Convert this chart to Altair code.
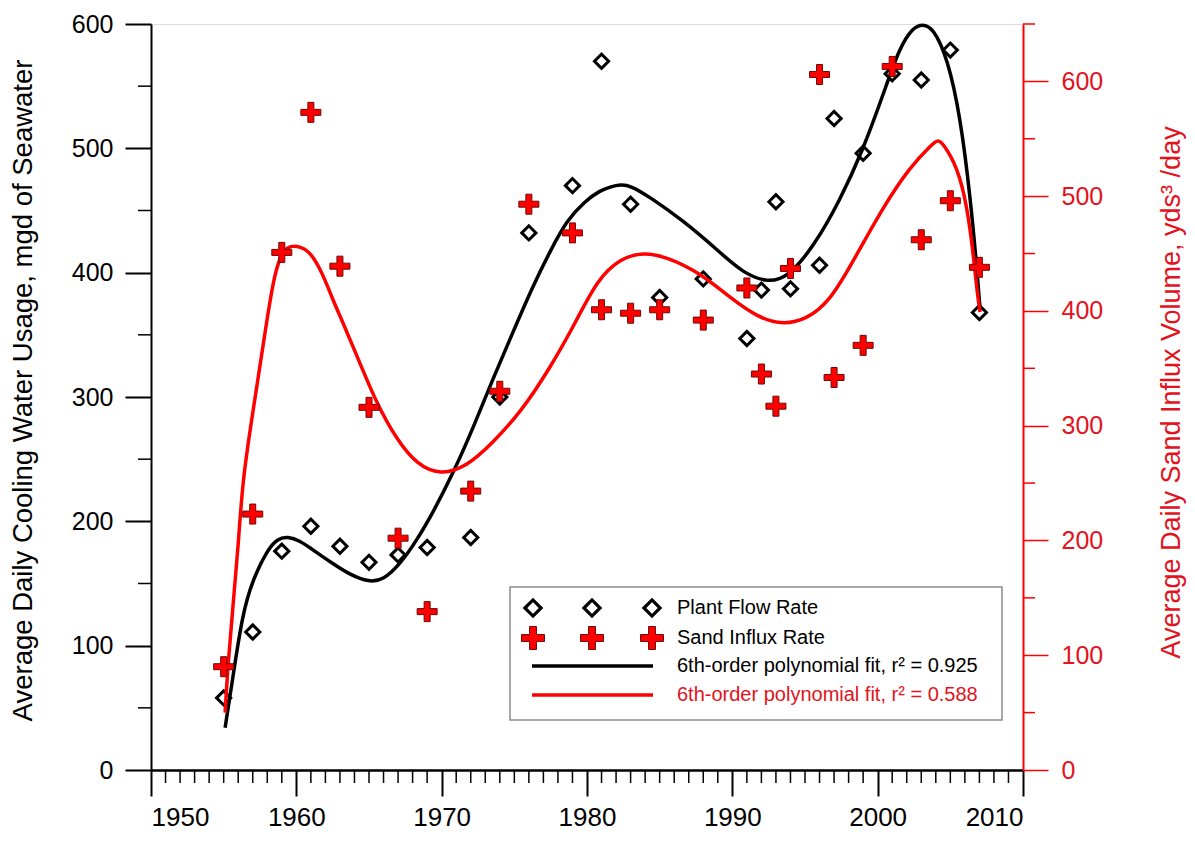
import altair as alt
import pandas as pd

# ---------------- data ----------------
years = [1955, 1957, 1959, 1961, 1963, 1965, 1967, 1969, 1972, 1974, 1976, 1979, 1981,
         1983, 1985, 1988, 1991, 1992, 1993, 1994, 1996, 1997, 1999, 2001, 2003, 2005, 2007]
plant_flow = [58, 111, 176, 196, 180, 167, 173, 179, 187, 300, 432, 470, 570,
              455, 380, 395, 347, 386, 457, 387, 406, 524, 496, 560, 555, 579, 368]
sand_influx = [90, 223, 451, 573, 439, 316, 202, 138, 243, 330, 493, 468, 401,
               398, 401, 392, 420, 345, 317, 437, 606, 342, 370, 613, 462, 496, 438]

fit_black_x = [1955.1, 1955.6, 1956.3, 1957.0, 1958.0, 1958.7, 1959.4, 1960.3, 1960.9, 1962.5,
               1963.7, 1965.0, 1966.0, 1967.1, 1968.3, 1969.4, 1970.8, 1972.2, 1973.5, 1974.9,
               1976.3, 1977.5, 1978.6, 1979.9, 1980.9, 1981.6, 1982.3, 1983.0, 1984.3, 1986.6,
               1989.0, 1990.7, 1992.4, 1993.8, 1995.6, 1997.4, 1999.0, 2000.4, 2001.5, 2002.4,
               2003.1, 2003.8, 2004.8, 2005.7, 2006.4, 2006.85, 2007.05]
fit_black_y = [34, 72, 126, 153, 177, 186, 188, 184, 179, 166,
               157, 151, 153, 165, 185, 207, 239, 276, 314, 352,
               390, 418, 442, 458, 466, 469, 471, 470, 461, 442,
               418, 400, 392, 396, 421, 458, 499, 544, 581, 597,
               600, 597, 573, 525, 458, 400, 370]

fit_red_x = [1955.1, 1955.3, 1955.6, 1956.0, 1956.3, 1957.0, 1957.7, 1958.4, 1958.9, 1959.4,
             1960.0, 1960.9, 1961.8, 1962.5, 1963.0, 1964.2, 1965.5, 1966.9, 1968.3, 1969.9,
             1971.7, 1973.5, 1975.4, 1977.5, 1979.3, 1980.7, 1982.3, 1983.9, 1985.5, 1987.8,
             1990.0, 1991.7, 1993.3, 1995.1, 1996.8, 1998.3, 2000.4, 2002.2, 2003.8, 2004.15,
             2004.5, 2005.5, 2006.15, 2006.55, 2006.9, 2007.05]
fit_red_y = [50, 93, 137, 194, 253, 311, 369, 427, 448, 456,
             457, 453, 433, 410, 396, 360, 320, 288, 266, 257,
             264, 285, 311, 351, 392, 427, 446, 451, 447, 433,
             410, 395, 388, 392, 410, 443, 491, 525, 546, 549,
             546, 525, 491, 453, 410, 399]

x_ticks = [1950, 1960, 1970, 1980, 1990, 2000, 2010]
left_ticks = [0, 100, 200, 300, 400, 500, 600]
left_minor = [50, 150, 250, 350, 450, 550]
right_ticks = [0, 100, 200, 300, 400, 500, 600]
right_minor = [50, 150, 250, 350, 450, 550, 650]
x_minor = [y for y in range(1951, 2010) if y % 10 != 0]

legend_labels = ["Plant Flow Rate", "Sand Influx Rate",
                 "6th-order polynomial fit, r\u00b2 = 0.925",
                 "6th-order polynomial fit, r\u00b2 = 0.588"]

left_title = "Average Daily Cooling Water Usage, mgd of Seawater"
right_title = "Average Daily Sand Influx Volume,  yds\u00b3 /day"

# ---------------- styling ----------------
W, H = 872, 746
FONT = "Liberation Sans, Arial, sans-serif"
RED = "#ff0000"
RED_TXT = "#e3121c"
CROSS = "M-1,-0.3H-0.3V-1H0.3V-0.3H1V0.3H0.3V1H-0.3V0.3H-1Z"

pts = pd.DataFrame({"year": years, "flow": plant_flow, "sand": sand_influx})
bfit = pd.DataFrame({"year": fit_black_x, "v": fit_black_y})
rfit = pd.DataFrame({"year": fit_red_x, "v": fit_red_y})

xscale = alt.Scale(domain=[1950, 2010], nice=False, zero=False)
xaxis = alt.Axis(values=x_ticks, format="d", tickSize=26, tickWidth=2, tickColor="black",
                 domainColor="black", domainWidth=2.5, labelFontSize=26, labelFont=FONT,
                 labelColor="black", labelPadding=8, grid=False, title=None)
X = alt.X("year:Q", scale=xscale, axis=xaxis)

lscale = alt.Scale(domain=[0, 600], nice=False)
laxis = alt.Axis(values=left_ticks, tickSize=26, tickWidth=2, tickColor="black",
                 domainColor="black", domainWidth=2, labelFontSize=25, labelFont=FONT,
                 labelColor="black", labelPadding=12, grid=False,
                 title=left_title, titleFont=FONT, titleFontSize=27.5, titleFontWeight="normal",
                 titleColor="black", titleAngle=270, titleX=-128, titleY=366,
                 titleBaseline="middle", titleAlign="center")
rscale = alt.Scale(domain=[0, 650], nice=False)
raxis = alt.Axis(values=right_ticks, orient="right", tickSize=25, tickWidth=1.5, tickColor=RED,
                 domainColor=RED, domainWidth=2, labelFontSize=25, labelFont=FONT,
                 labelColor=RED_TXT, labelPadding=13, grid=False,
                 title=right_title, titleFont=FONT, titleFontSize=27, titleFontWeight="normal",
                 titleColor=RED_TXT, titleAngle=270, titleX=148, titleY=368,
                 titleBaseline="middle", titleAlign="center")

# left (black) group
black_line = alt.Chart(bfit).mark_line(color="black", strokeWidth=3.5, interpolate="basis").encode(
    x=X, y=alt.Y("v:Q", scale=lscale, axis=laxis))
diamonds = alt.Chart(pts).mark_point(shape="diamond", filled=False, stroke="black",
                                     strokeWidth=3, size=200, opacity=1).encode(
    x=X, y=alt.Y("flow:Q", scale=lscale, axis=laxis))
lminor = alt.Chart(pd.DataFrame({"v": left_minor})).mark_rule(color="black", strokeWidth=1.5).encode(
    y=alt.Y("v:Q", scale=lscale, axis=laxis), x=alt.value(-13), x2=alt.value(0))
xminor = alt.Chart(pd.DataFrame({"year": x_minor})).mark_rule(color="black", strokeWidth=1.5).encode(
    x=X, y=alt.value(H), y2=alt.value(H + 13))
left = alt.layer(black_line, lminor, xminor, diamonds)

# right (red) group
red_line = alt.Chart(rfit).mark_line(color=RED, strokeWidth=3.5, interpolate="basis").encode(
    x=X, y=alt.Y("v:Q", scale=rscale, axis=raxis))
crosses = alt.Chart(pts).mark_point(shape=CROSS, filled=True, fill=RED, stroke="#6a0a0a",
                                    strokeWidth=1, size=400, opacity=1).encode(
    x=X, y=alt.Y("sand:Q", scale=rscale, axis=raxis))
rminor = alt.Chart(pd.DataFrame({"v": right_minor})).mark_rule(color=RED, strokeWidth=1.5).encode(
    y=alt.Y("v:Q", scale=rscale, axis=raxis), x=alt.value(W), x2=alt.value(W + 12))
right = alt.layer(red_line, rminor, crosses)

# legend (drawn in pixel space of the plot area)
one = alt.Data(values=[{"k": 1}])
leg = [alt.Chart(one).mark_rect(fill="white", stroke="#8c8c8c", strokeWidth=1.5).encode(
    x=alt.value(359), x2=alt.value(851), y=alt.value(563), y2=alt.value(696))]
for sx in [382, 441, 501]:
    leg.append(alt.Chart(one).mark_point(shape="diamond", filled=False, stroke="black",
                                         strokeWidth=3.2, size=260, opacity=1).encode(
        x=alt.value(sx), y=alt.value(584)))
    leg.append(alt.Chart(one).mark_point(shape=CROSS, filled=True, fill=RED, stroke="#6a0a0a",
                                         strokeWidth=1, size=530, opacity=1).encode(
        x=alt.value(sx), y=alt.value(614)))
leg.append(alt.Chart(one).mark_rule(color="black", strokeWidth=3.5).encode(
    x=alt.value(381), x2=alt.value(502), y=alt.value(642)))
leg.append(alt.Chart(one).mark_rule(color=RED, strokeWidth=3.5).encode(
    x=alt.value(381), x2=alt.value(502), y=alt.value(671)))
for lab, ly, col in zip(legend_labels, [584, 614, 642, 671], ["black", "black", "black", RED_TXT]):
    leg.append(alt.Chart(one).mark_text(text=lab, align="left", baseline="middle", font=FONT,
                                        fontSize=20, color=col).encode(
        x=alt.value(526), y=alt.value(ly)))
legend = alt.layer(*leg)

chart = alt.layer(left, right, legend).resolve_scale(y="independent").properties(
    width=W, height=H,
    autosize=alt.AutoSizeParams(type="none"),
    padding={"left": 143, "top": 16, "right": 164, "bottom": 64},
).configure_view(stroke=None).configure(background="white")

chart.save("out.html", embed_options={"renderer": "svg", "actions": False})
